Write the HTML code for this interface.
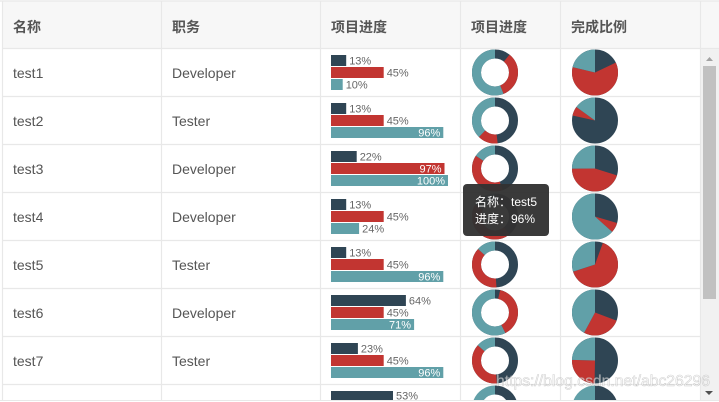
<!DOCTYPE html>
<html><head><meta charset="utf-8"><style>
html,body{margin:0;padding:0;background:#fff;width:719px;height:402px;overflow:hidden;}
svg{display:block;}
.h{font:bold 14px "Liberation Sans","Noto Sans CJK SC",sans-serif;fill:#555;}
.b{font:14px "Liberation Sans","Noto Sans CJK SC",sans-serif;fill:#555;}
.l{font:11px "Liberation Sans",sans-serif;fill:#666;}
.li{font:11px "Liberation Sans",sans-serif;fill:#fff;text-anchor:end;}
.t{font:12px "Liberation Sans","Noto Sans CJK SC",sans-serif;fill:#fff;}
</style></head><body>
<svg width="719" height="402" viewBox="0 0 719 402" xmlns="http://www.w3.org/2000/svg">
<rect x="0" y="0" width="719" height="402" fill="#fff"/>
<!-- header -->
<rect x="2" y="1" width="717" height="47" fill="#f7f7f7"/>
<text class="h" x="13" y="32">名称</text>
<text class="h" x="172" y="32">职务</text>
<text class="h" x="331" y="32">项目进度</text>
<text class="h" x="471" y="32">项目进度</text>
<text class="h" x="571" y="32">完成比例</text>
<!-- body text -->
<g class="b">
<text x="13" y="78">test1</text><text x="172" y="78">Developer</text>
<text x="13" y="126">test2</text><text x="172" y="126">Tester</text>
<text x="13" y="174">test3</text><text x="172" y="174">Developer</text>
<text x="13" y="222">test4</text><text x="172" y="222">Developer</text>
<text x="13" y="270">test5</text><text x="172" y="270">Tester</text>
<text x="13" y="318">test6</text><text x="172" y="318">Developer</text>
<text x="13" y="366">test7</text><text x="172" y="366">Tester</text>
</g>
<!-- bars -->
<g>
<rect x="331" y="55" width="15.2" height="11" fill="#2f4554"/><text class="l" x="349.2" y="64.5">13%</text>
<rect x="331" y="67" width="52.7" height="11" fill="#c23531"/><text class="l" x="386.7" y="76.5">45%</text>
<rect x="331" y="79" width="11.7" height="11" fill="#61a0a8"/><text class="l" x="345.7" y="88.5">10%</text>

<rect x="331" y="103" width="15.2" height="11" fill="#2f4554"/><text class="l" x="349.2" y="112.5">13%</text>
<rect x="331" y="115" width="52.7" height="11" fill="#c23531"/><text class="l" x="386.7" y="124.5">45%</text>
<rect x="331" y="127" width="112.3" height="11" fill="#61a0a8"/><text class="li" x="440.3" y="136.5">96%</text>

<rect x="331" y="151" width="25.7" height="11" fill="#2f4554"/><text class="l" x="359.7" y="160.5">22%</text>
<rect x="331" y="163" width="113.5" height="11" fill="#c23531"/><text class="li" x="441.5" y="172.5">97%</text>
<rect x="331" y="175" width="117" height="11" fill="#61a0a8"/><text class="li" x="445" y="184.5">100%</text>

<rect x="331" y="199" width="15.2" height="11" fill="#2f4554"/><text class="l" x="349.2" y="208.5">13%</text>
<rect x="331" y="211" width="52.7" height="11" fill="#c23531"/><text class="l" x="386.7" y="220.5">45%</text>
<rect x="331" y="223" width="28.1" height="11" fill="#61a0a8"/><text class="l" x="362.1" y="232.5">24%</text>

<rect x="331" y="247" width="15.2" height="11" fill="#2f4554"/><text class="l" x="349.2" y="256.5">13%</text>
<rect x="331" y="259" width="52.7" height="11" fill="#c23531"/><text class="l" x="386.7" y="268.5">45%</text>
<rect x="331" y="271" width="112.3" height="11" fill="#61a0a8"/><text class="li" x="440.3" y="280.5">96%</text>

<rect x="331" y="295" width="74.9" height="11" fill="#2f4554"/><text class="l" x="408.9" y="304.5">64%</text>
<rect x="331" y="307" width="52.7" height="11" fill="#c23531"/><text class="l" x="386.7" y="316.5">45%</text>
<rect x="331" y="319" width="83.1" height="11" fill="#61a0a8"/><text class="li" x="411" y="328.5">71%</text>

<rect x="331" y="343" width="26.9" height="11" fill="#2f4554"/><text class="l" x="360.9" y="352.5">23%</text>
<rect x="331" y="355" width="52.7" height="11" fill="#c23531"/><text class="l" x="386.7" y="364.5">45%</text>
<rect x="331" y="367" width="112.3" height="11" fill="#61a0a8"/><text class="li" x="440.3" y="376.5">96%</text>

<rect x="331" y="391" width="62" height="9" fill="#2f4554"/><text class="l" x="396" y="399.5">53%</text>
</g>
<!-- donuts -->
<g fill="none" stroke-width="9">
<g transform="rotate(-90 495 72.5)"><circle cx="495" cy="72.5" r="18.5" stroke="#2f4554"/><circle cx="495" cy="72.5" r="18.5" stroke="#c23531" stroke-dasharray="38.42 1000" stroke-dashoffset="-12.59"/><circle cx="495" cy="72.5" r="18.5" stroke="#61a0a8" stroke-dasharray="65.22 1000" stroke-dashoffset="-51.02"/></g>
<g transform="rotate(-90 495 120.5)"><circle cx="495" cy="120.5" r="18.5" stroke="#2f4554"/><circle cx="495" cy="120.5" r="18.5" stroke="#c23531" stroke-dasharray="16.47 1000" stroke-dashoffset="-55.86"/><circle cx="495" cy="120.5" r="18.5" stroke="#61a0a8" stroke-dasharray="43.91 1000" stroke-dashoffset="-72.33"/></g>
<g transform="rotate(-90 495 168.5)"><circle cx="495" cy="168.5" r="18.5" stroke="#2f4554"/><circle cx="495" cy="168.5" r="18.5" stroke="#c23531" stroke-dasharray="46.17 1000" stroke-dashoffset="-51.66"/><circle cx="495" cy="168.5" r="18.5" stroke="#61a0a8" stroke-dasharray="18.40 1000" stroke-dashoffset="-97.84"/></g>
<g transform="rotate(-90 495 216.5)"><circle cx="495" cy="216.5" r="18.5" stroke="#2f4554"/><circle cx="495" cy="216.5" r="18.5" stroke="#c23531" stroke-dasharray="51.66 1000" stroke-dashoffset="-45.20"/><circle cx="495" cy="216.5" r="18.5" stroke="#61a0a8" stroke-dasharray="19.37 1000" stroke-dashoffset="-96.87"/></g>
<g transform="rotate(-90 495 264.5)"><circle cx="495" cy="264.5" r="18.5" stroke="#2f4554"/><circle cx="495" cy="264.5" r="18.5" stroke="#c23531" stroke-dasharray="43.91 1000" stroke-dashoffset="-56.83"/><circle cx="495" cy="264.5" r="18.5" stroke="#61a0a8" stroke-dasharray="15.50 1000" stroke-dashoffset="-100.74"/></g>
<g transform="rotate(-90 495 312.5)"><circle cx="495" cy="312.5" r="18.5" stroke="#2f4554"/><circle cx="495" cy="312.5" r="18.5" stroke="#c23531" stroke-dasharray="45.20 1000" stroke-dashoffset="-4.20"/><circle cx="495" cy="312.5" r="18.5" stroke="#61a0a8" stroke-dasharray="66.84 1000" stroke-dashoffset="-49.40"/></g>
<g transform="rotate(-90 495 360.5)"><circle cx="495" cy="360.5" r="18.5" stroke="#2f4554"/><circle cx="495" cy="360.5" r="18.5" stroke="#c23531" stroke-dasharray="43.91 1000" stroke-dashoffset="-56.51"/><circle cx="495" cy="360.5" r="18.5" stroke="#61a0a8" stroke-dasharray="15.82 1000" stroke-dashoffset="-100.42"/></g>
</g>
<!-- row 8 donut (visible top part only) -->
<path d="M495,385.5 A23,23 0 0 1 516.37,400 L506.12,400 A14,14 0 0 0 495,394.5 Z" fill="#2f4554"/>
<path d="M495,385.5 A23,23 0 0 0 473.63,400 L483.88,400 A14,14 0 0 1 495,394.5 Z" fill="#61a0a8"/>
<!-- pies -->
<g fill="none" stroke-width="23">
<g transform="rotate(-90 595 72.5)"><circle cx="595" cy="72.5" r="11.5" stroke="#2f4554"/><circle cx="595" cy="72.5" r="11.5" stroke="#c23531" stroke-dasharray="43.75 1000" stroke-dashoffset="-12.85"/><circle cx="595" cy="72.5" r="11.5" stroke="#61a0a8" stroke-dasharray="15.66 1000" stroke-dashoffset="-56.60"/></g>
<g transform="rotate(-90 595 120.5)"><circle cx="595" cy="120.5" r="11.5" stroke="#2f4554"/><circle cx="595" cy="120.5" r="11.5" stroke="#c23531" stroke-dasharray="4.62 1000" stroke-dashoffset="-56.40"/><circle cx="595" cy="120.5" r="11.5" stroke="#61a0a8" stroke-dasharray="11.24 1000" stroke-dashoffset="-61.02"/></g>
<g transform="rotate(-90 595 168.5)"><circle cx="595" cy="168.5" r="11.5" stroke="#2f4554"/><circle cx="595" cy="168.5" r="11.5" stroke="#c23531" stroke-dasharray="32.31 1000" stroke-dashoffset="-21.48"/><circle cx="595" cy="168.5" r="11.5" stroke="#61a0a8" stroke-dasharray="18.47 1000" stroke-dashoffset="-53.79"/></g>
<g transform="rotate(-90 595 216.5)"><circle cx="595" cy="216.5" r="11.5" stroke="#2f4554"/><circle cx="595" cy="216.5" r="11.5" stroke="#c23531" stroke-dasharray="5.02 1000" stroke-dashoffset="-21.28"/><circle cx="595" cy="216.5" r="11.5" stroke="#61a0a8" stroke-dasharray="45.96 1000" stroke-dashoffset="-26.29"/></g>
<g transform="rotate(-90 595 264.5)"><circle cx="595" cy="264.5" r="11.5" stroke="#2f4554"/><circle cx="595" cy="264.5" r="11.5" stroke="#c23531" stroke-dasharray="46.16 1000" stroke-dashoffset="-4.01"/><circle cx="595" cy="264.5" r="11.5" stroke="#61a0a8" stroke-dasharray="22.08 1000" stroke-dashoffset="-50.18"/></g>
<g transform="rotate(-90 595 312.5)"><circle cx="595" cy="312.5" r="11.5" stroke="#2f4554"/><circle cx="595" cy="312.5" r="11.5" stroke="#c23531" stroke-dasharray="19.47 1000" stroke-dashoffset="-22.08"/><circle cx="595" cy="312.5" r="11.5" stroke="#61a0a8" stroke-dasharray="30.71 1000" stroke-dashoffset="-41.55"/></g>
<g transform="rotate(-90 595 360.5)"><circle cx="595" cy="360.5" r="11.5" stroke="#2f4554"/><circle cx="595" cy="360.5" r="11.5" stroke="#c23531" stroke-dasharray="18.06 1000" stroke-dashoffset="-36.13"/><circle cx="595" cy="360.5" r="11.5" stroke="#61a0a8" stroke-dasharray="18.06 1000" stroke-dashoffset="-54.19"/></g>
</g>
<!-- row 8 pie (visible top part only) -->
<path d="M595,385.5 A23,23 0 0 1 616.37,400 L595,400 Z" fill="#2f4554"/>
<path d="M595,385.5 A23,23 0 0 0 573.63,400 L595,400 Z" fill="#61a0a8"/>
<!-- grid lines -->
<g stroke="#e8e8e8" stroke-width="1.2">
<line x1="0" y1="1" x2="719" y2="1"/>
<line x1="2.5" y1="1" x2="2.5" y2="400"/>
<line x1="161.5" y1="1" x2="161.5" y2="400"/>
<line x1="320.5" y1="1" x2="320.5" y2="400"/>
<line x1="460.5" y1="1" x2="460.5" y2="400"/>
<line x1="560.5" y1="1" x2="560.5" y2="400"/>
<line x1="700.5" y1="1" x2="700.5" y2="400"/>
<line x1="2" y1="48.5" x2="719" y2="48.5"/>
<line x1="2" y1="96.5" x2="700" y2="96.5"/>
<line x1="2" y1="144.5" x2="700" y2="144.5"/>
<line x1="2" y1="192.5" x2="700" y2="192.5"/>
<line x1="2" y1="240.5" x2="700" y2="240.5"/>
<line x1="2" y1="288.5" x2="700" y2="288.5"/>
<line x1="2" y1="336.5" x2="700" y2="336.5"/>
<line x1="2" y1="384.5" x2="700" y2="384.5"/>
</g>
<!-- scrollbar -->
<rect x="701" y="49" width="18" height="351" fill="#f1f1f1"/>
<polygon points="706,61 713,61 709.5,57" fill="#a3a3a3"/>
<rect x="703" y="66" width="13" height="233" fill="#c1c1c1"/>
<polygon points="705,391 713,391 709,395" fill="#505050"/>
<line x1="0" y1="400.5" x2="719" y2="400.5" stroke="#e8e8e8" stroke-width="1"/>
<!-- tooltip -->
<rect x="463" y="184" width="86" height="52" rx="4" fill="#323232" fill-opacity="0.96"/>
<text class="t" x="475" y="206">名称：test5</text>
<text class="t" x="475" y="223">进度：96%</text>
<!-- watermark -->
<text x="496" y="386" font-family="Liberation Sans, sans-serif" font-size="16" textLength="214" lengthAdjust="spacingAndGlyphs" fill="#ffffff" fill-opacity="0.55" stroke="#9a9a9a" stroke-opacity="0.45" stroke-width="0.6">https://blog.csdn.net/abc26296</text>
</svg>
</body></html>
